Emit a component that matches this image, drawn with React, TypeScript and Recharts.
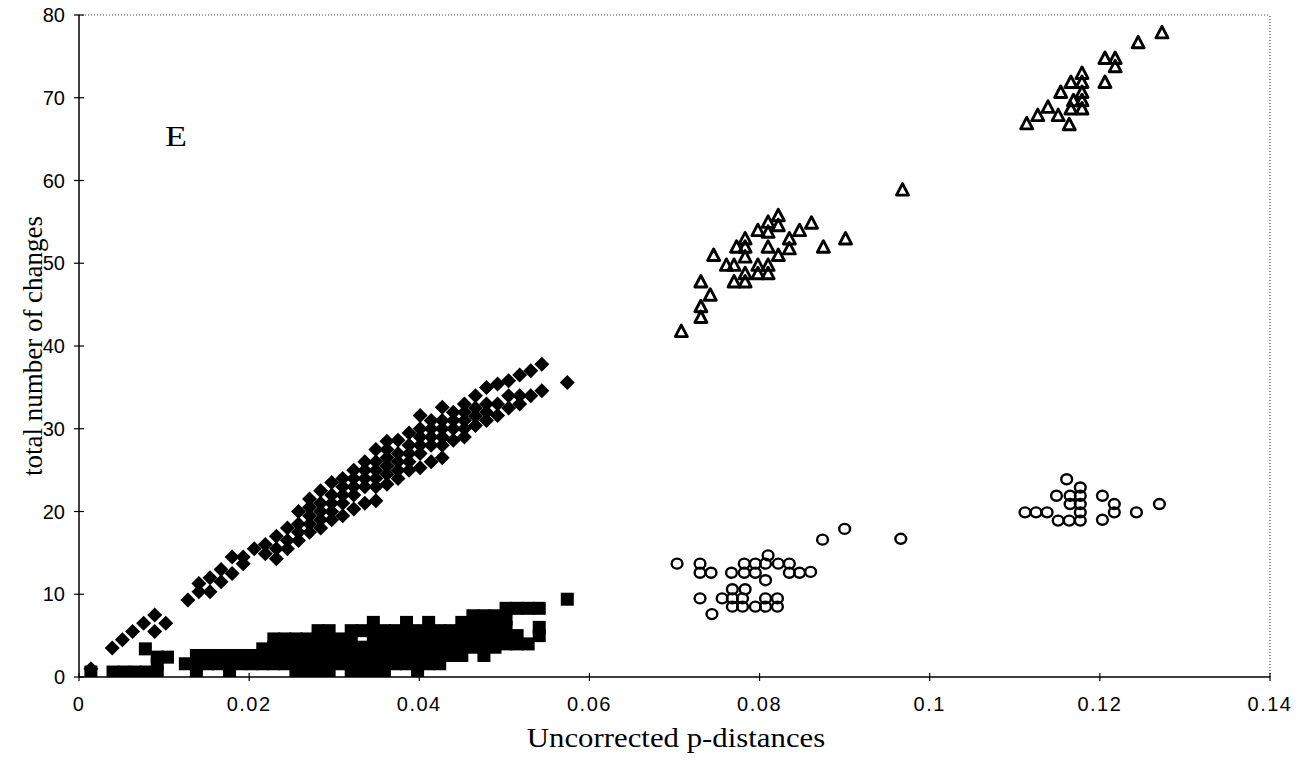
import { ScatterChart, Scatter, XAxis, YAxis, ReferenceLine } from 'recharts';

// [p-distance, total changes]
const diamondPts: [number, number][] = [
  [0.0014, 1.0],
  [0.0039, 3.5], [0.0051, 4.5], [0.0063, 5.5], [0.0076, 6.5], [0.0089, 7.5], [0.0089, 5.5], [0.0102, 6.5],
  [0.0128, 9.3], [0.0141, 10.3], [0.0141, 11.3], [0.0154, 10.3], [0.0154, 12.0], [0.0167, 11.5], [0.0167, 13.0],
  [0.018, 12.5], [0.018, 14.5], [0.0193, 13.7], [0.0193, 14.5],
  [0.0206, 15.5], [0.0219, 14.9], [0.0219, 16.0], [0.0232, 14.3], [0.0232, 15.5], [0.0232, 17.0],
  [0.0245, 15.5], [0.0245, 16.5], [0.0245, 18.0],
  [0.0258, 16.5], [0.0258, 17.5], [0.0258, 18.5], [0.0258, 20.0],
  [0.0271, 17.5], [0.0271, 18.5], [0.0271, 19.5], [0.0271, 20.5], [0.0271, 21.5],
  [0.0284, 18.0], [0.0284, 19.0], [0.0284, 20.0], [0.0284, 21.0], [0.0284, 22.5],
  [0.0297, 19.0], [0.0297, 20.0], [0.0297, 21.0], [0.0297, 22.0], [0.0297, 23.5],
  [0.031, 19.5], [0.031, 21.0], [0.031, 22.0], [0.031, 23.0], [0.031, 24.0],
  [0.0323, 20.3], [0.0323, 22.0], [0.0323, 23.0], [0.0323, 24.0], [0.0323, 25.0],
  [0.0336, 21.0], [0.0336, 23.0], [0.0336, 24.0], [0.0336, 25.0], [0.0336, 26.0],
  [0.0349, 21.3], [0.0349, 23.0], [0.0349, 24.0], [0.0349, 25.0], [0.0349, 26.0], [0.0349, 27.5],
  [0.0362, 23.3], [0.0362, 24.5], [0.0362, 25.5], [0.0362, 26.5], [0.0362, 27.5], [0.0362, 28.5],
  [0.0375, 24.0], [0.0375, 25.0], [0.0375, 26.0], [0.0375, 27.0], [0.0375, 28.6],
  [0.0388, 25.0], [0.0388, 26.0], [0.0388, 27.0], [0.0388, 28.0], [0.0388, 29.5],
  [0.0401, 25.3], [0.0401, 27.0], [0.0401, 28.0], [0.0401, 29.0], [0.0401, 30.0], [0.0401, 31.6],
  [0.0414, 26.0], [0.0414, 28.0], [0.0414, 29.0], [0.0414, 30.0], [0.0414, 31.0],
  [0.0427, 26.5], [0.0427, 28.0], [0.0427, 29.0], [0.0427, 30.0], [0.0427, 31.0], [0.0427, 32.6],
  [0.044, 28.6], [0.044, 30.0], [0.044, 31.0], [0.044, 32.0],
  [0.0453, 29.0], [0.0453, 30.0], [0.0453, 31.0], [0.0453, 32.0], [0.0453, 33.0],
  [0.0466, 30.4], [0.0466, 31.5], [0.0466, 32.5], [0.0466, 34.0],
  [0.0479, 31.0], [0.0479, 32.0], [0.0479, 33.0], [0.0479, 35.0],
  [0.0492, 31.6], [0.0492, 33.0], [0.0492, 35.4],
  [0.0505, 32.5], [0.0505, 34.0], [0.0505, 35.8],
  [0.0518, 33.0], [0.0518, 34.0], [0.0518, 36.5],
  [0.0531, 34.0], [0.0531, 37.0],
  [0.0544, 34.6], [0.0544, 37.8],
  [0.0574, 35.6],
];

const squarePts: [number, number][] = [
  [0.0014, 0.6],
  [0.004, 0.6], [0.0053, 0.6], [0.0066, 0.6], [0.0079, 0.6], [0.0092, 0.6],
  [0.0078, 3.4], [0.0092, 2.4], [0.0104, 2.4], [0.0092, 1.6],
  [0.0125, 1.6], [0.0138, 0.6], [0.0138, 1.6], [0.0138, 2.6], [0.0151, 1.6], [0.0151, 2.6],
  [0.0164, 1.6], [0.0164, 2.6], [0.0177, 0.6], [0.0177, 1.6], [0.0177, 2.6],
  [0.019, 1.6], [0.019, 2.6], [0.0203, 1.6], [0.0203, 2.6],
  [0.0216, 1.6], [0.0216, 2.6], [0.0216, 3.4],
  [0.0229, 1.6], [0.0229, 2.6], [0.0229, 3.6], [0.0229, 4.6],
  [0.0242, 1.6], [0.0242, 2.6], [0.0242, 3.6], [0.0242, 4.6],
  [0.0255, 0.6], [0.0255, 1.6], [0.0255, 2.6], [0.0255, 3.6], [0.0255, 4.6],
  [0.0268, 0.6], [0.0268, 1.6], [0.0268, 2.6], [0.0268, 3.6], [0.0268, 4.6],
  [0.0281, 0.6], [0.0281, 1.6], [0.0281, 2.6], [0.0281, 3.6], [0.0281, 4.6], [0.0281, 5.6],
  [0.0294, 0.6], [0.0294, 1.6], [0.0294, 2.6], [0.0294, 3.6], [0.0294, 4.6], [0.0294, 5.6],
  [0.0307, 1.6], [0.0307, 2.6], [0.0307, 3.6], [0.0307, 4.6],
  [0.032, 0.6], [0.032, 1.6], [0.032, 2.6], [0.032, 3.6], [0.032, 4.6], [0.032, 5.6],
  [0.0333, 0.6], [0.0333, 1.6], [0.0333, 2.6], [0.0333, 3.6], [0.0333, 5.6],
  [0.0346, 0.6], [0.0346, 1.6], [0.0346, 2.6], [0.0346, 3.6], [0.0346, 4.6], [0.0346, 5.6], [0.0346, 6.6],
  [0.0359, 0.6], [0.0359, 1.6], [0.0359, 2.6], [0.0359, 3.6], [0.0359, 4.6], [0.0359, 5.6],
  [0.0372, 1.6], [0.0372, 2.6], [0.0372, 3.6], [0.0372, 4.6], [0.0372, 5.6],
  [0.0385, 1.6], [0.0385, 2.6], [0.0385, 3.6], [0.0385, 4.6], [0.0385, 5.6], [0.0385, 6.6],
  [0.0398, 0.6], [0.0398, 1.6], [0.0398, 2.6], [0.0398, 3.6], [0.0398, 4.6], [0.0398, 5.6],
  [0.0411, 1.6], [0.0411, 2.6], [0.0411, 3.6], [0.0411, 4.6], [0.0411, 5.6], [0.0411, 6.6],
  [0.0424, 1.6], [0.0424, 2.6], [0.0424, 3.6], [0.0424, 4.6], [0.0424, 5.6],
  [0.0437, 2.6], [0.0437, 3.6], [0.0437, 4.6], [0.0437, 5.6],
  [0.045, 2.6], [0.045, 3.6], [0.045, 4.6], [0.045, 5.6], [0.045, 6.6],
  [0.0463, 3.6], [0.0463, 4.6], [0.0463, 5.6], [0.0463, 6.6], [0.0463, 7.4],
  [0.0476, 2.6], [0.0476, 3.6], [0.0476, 4.6], [0.0476, 5.6], [0.0476, 6.6], [0.0476, 7.4],
  [0.0489, 3.6], [0.0489, 4.6], [0.0489, 5.6], [0.0489, 6.6], [0.0489, 7.4],
  [0.0502, 4.0], [0.0502, 5.0], [0.0502, 6.0], [0.0502, 7.0], [0.0502, 8.3],
  [0.0515, 4.0], [0.0515, 5.0], [0.0515, 8.3],
  [0.0528, 4.0], [0.0528, 8.3],
  [0.0541, 5.0], [0.0541, 6.0], [0.0541, 8.3],
  [0.0574, 9.4],
];

const trianglePts: [number, number][] = [
  [0.0708, 41.8], [0.0731, 43.5], [0.0731, 44.8], [0.0742, 46.2], [0.0731, 47.8],
  [0.0746, 51.0], [0.0761, 49.8], [0.077, 47.8], [0.0773, 52.0], [0.0783, 53.0], [0.0783, 52.0],
  [0.0783, 50.8], [0.0783, 47.8], [0.077, 49.8],
  [0.0798, 54.0], [0.0798, 49.8], [0.0798, 48.8], [0.0783, 48.8], [0.081, 55.0], [0.081, 53.8],
  [0.081, 52.0], [0.081, 49.8], [0.081, 48.8],
  [0.0822, 55.8], [0.0822, 54.6], [0.0822, 51.0], [0.0835, 53.0], [0.0835, 51.8], [0.0847, 54.0],
  [0.0861, 54.9], [0.0875, 52.0], [0.0901, 53.0],
  [0.0968, 58.9],
  [0.1114, 66.9], [0.1127, 67.9], [0.1139, 68.9], [0.1151, 67.9], [0.1154, 70.7], [0.1164, 66.8],
  [0.1166, 68.7], [0.1166, 71.9], [0.1169, 69.7],
  [0.1179, 68.7], [0.1179, 69.7], [0.1179, 70.7], [0.1179, 71.9], [0.1179, 73.0],
  [0.1206, 71.9], [0.1206, 74.8], [0.1218, 74.8], [0.1218, 73.8],
  [0.1245, 76.7], [0.1273, 77.9],
];

const circlePts: [number, number][] = [
  [0.0703, 13.7], [0.073, 13.7], [0.073, 12.6], [0.0743, 12.6], [0.073, 9.5], [0.0744, 7.6], [0.0756, 9.5],
  [0.0768, 10.6], [0.0783, 10.6], [0.0768, 9.5], [0.078, 9.5], [0.0768, 8.5], [0.078, 8.5], [0.0795, 8.5],
  [0.0807, 9.5], [0.0807, 8.5], [0.0821, 9.5], [0.0821, 8.5],
  [0.0767, 12.6], [0.0782, 13.7], [0.0782, 12.6], [0.0795, 13.7], [0.0795, 12.6], [0.0807, 13.7],
  [0.081, 14.7], [0.0807, 11.7],
  [0.0822, 13.7], [0.0835, 13.7], [0.0835, 12.6], [0.0847, 12.6], [0.086, 12.7],
  [0.0874, 16.6], [0.09, 17.9], [0.0966, 16.7],
  [0.1112, 19.9], [0.1125, 19.9], [0.1138, 19.9], [0.1151, 18.9], [0.1164, 18.9], [0.1177, 18.9],
  [0.1177, 19.9], [0.1177, 20.9], [0.1177, 21.9], [0.1177, 22.9],
  [0.1165, 20.9], [0.1165, 21.9], [0.1149, 21.9], [0.1161, 23.9], [0.1203, 21.9], [0.1203, 19.0],
  [0.1217, 20.9], [0.1217, 19.9], [0.1243, 19.9], [0.127, 20.9],
];

const xTicks = [0, 0.02, 0.04, 0.06, 0.08, 0.1, 0.12, 0.14];
const yTicks = [0, 10, 20, 30, 40, 50, 60, 70, 80];

const toRows = (pts: [number, number][]) => pts.map(([x, y]) => ({ x, y }));

const Diamond = ({ cx, cy }: any) => (
  <polygon points={`${cx},${cy - 7.5} ${cx + 7.5},${cy} ${cx},${cy + 7.5} ${cx - 7.5},${cy}`} fill="#000" />
);
const Square = ({ cx, cy }: any) => <rect x={cx - 6.5} y={cy - 6.5} width={13} height={13} fill="#000" />;
const Triangle = ({ cx, cy }: any) => (
  <polygon
    points={`${cx},${cy - 6} ${cx + 6},${cy + 5.5} ${cx - 6},${cy + 5.5}`}
    fill="none"
    stroke="#000"
    strokeWidth={2.9}
    strokeLinejoin="round"
  />
);
const Circle = ({ cx, cy }: any) => <ellipse cx={cx} cy={cy} rx={5.4} ry={5} fill="none" stroke="#000" strokeWidth={2.4} />;

const YTick = ({ x, y, payload }: any) => (
  <g>
    <line x1={x - 5} x2={x + 5} y1={y} y2={y} stroke="#000" strokeWidth={1.2} />
    <text x={x - 14} y={y} dy={7} textAnchor="end" fontSize={20} fontFamily="'Liberation Sans', Arial, sans-serif" fill="#000">
      {payload.value}
    </text>
  </g>
);

const XTick = ({ x, y, payload }: any) => (
  <g>
    <line x1={x} x2={x} y1={y - 4} y2={y + 4} stroke="#000" strokeWidth={1.2} />
    <text x={x} y={y + 34} textAnchor="middle" fontSize={20} letterSpacing={1.5} fontFamily="'Liberation Sans', Arial, sans-serif" fill="#000">
      {payload.value}
    </text>
  </g>
);

const serif = "'Liberation Serif', 'Times New Roman', serif";

export default function App() {
  return (
    <div style={{ position: 'relative', width: 1285, height: 753, marginTop: -8, background: '#fff' }}>
      <ScatterChart width={1285} height={753} margin={{ top: 15, right: 23, bottom: 36, left: 0 }}>
        <XAxis
          type="number"
          dataKey="x"
          domain={[0, 0.14]}
          ticks={xTicks}
          height={40}
          tickSize={0}
          tickMargin={0}
          tick={<XTick />}
          axisLine={{ stroke: '#000', strokeWidth: 1.5 }}
          allowDataOverflow
        />
        <YAxis
          type="number"
          dataKey="y"
          domain={[0, 80]}
          ticks={yTicks}
          width={71}
          tickSize={0}
          tickMargin={0}
          tick={<YTick />}
          axisLine={{ stroke: '#000', strokeWidth: 1.5 }}
          allowDataOverflow
        />
        <ReferenceLine y={80} stroke="#444" strokeDasharray="1 2" strokeWidth={1} />
        <ReferenceLine x={0.14} stroke="#444" strokeDasharray="1 2" strokeWidth={1.2} />
        <Scatter data={toRows(squarePts)} shape={<Square />} isAnimationActive={false} />
        <Scatter data={toRows(diamondPts)} shape={<Diamond />} isAnimationActive={false} />
        <Scatter data={toRows(trianglePts)} shape={<Triangle />} isAnimationActive={false} />
        <Scatter data={toRows(circlePts)} shape={<Circle />} isAnimationActive={false} />
      </ScatterChart>
      <div
        style={{
          position: 'absolute',
          left: 157,
          top: 121,
          fontFamily: serif,
          fontSize: 30,
          lineHeight: 1,
          transform: 'scaleX(1.2)',
          transformOrigin: 'left top',
        }}
      >
        E
      </div>
      <div
        style={{
          position: 'absolute',
          left: 668,
          top: 724,
          transform: 'translateX(-50%) scaleX(1.1)',
          fontFamily: serif,
          fontSize: 28,
          lineHeight: 1,
          whiteSpace: 'nowrap',
        }}
      >
        Uncorrected p-distances
      </div>
      <div
        style={{
          position: 'absolute',
          left: 25,
          top: 346,
          transform: 'translate(-50%, -50%) rotate(-90deg)',
          fontFamily: serif,
          fontSize: 27,
          lineHeight: 1,
          whiteSpace: 'nowrap',
        }}
      >
        total number of changes
      </div>
    </div>
  );
}
